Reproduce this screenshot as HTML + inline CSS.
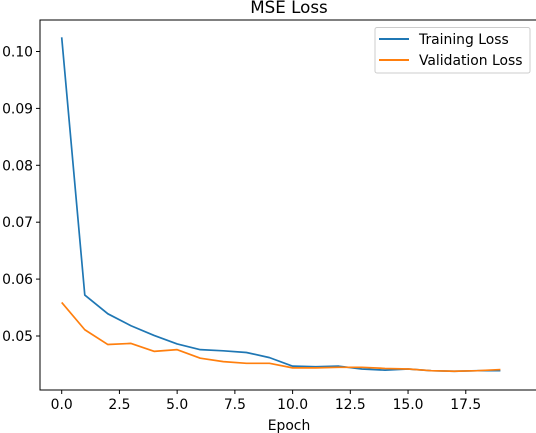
<!DOCTYPE html>
<html><head><meta charset="utf-8"><style>
body{margin:0;background:#fff;}
svg{display:block;font-family:"DejaVu Sans","Liberation Sans",sans-serif;}
</style></head><body>
<svg id="chart" width="536" height="433">
<text x="289" y="13" font-size="16.7" text-anchor="middle">MSE Loss</text>
<g id="axes"></g>
<g id="series"></g>
<text x="289" y="430" font-size="13.9" text-anchor="middle">Epoch</text>
<g>
<rect x="375" y="27.5" width="155" height="45.5" rx="2" fill="#fff" stroke="#ccc" stroke-width="1"/>
<line x1="379" y1="39" x2="409" y2="39" stroke="#1f77b4" stroke-width="2"/>
<text x="419" y="44" font-size="13.9">Training Loss</text>
<line x1="379" y1="60" x2="409" y2="60" stroke="#ff7f0e" stroke-width="2"/>
<text x="419" y="65" font-size="13.9">Validation Loss</text>
</g>
</svg>
<script>
const epochs=[0,1,2,3,4,5,6,7,8,9,10,11,12,13,14,15,16,17,18,19];
const trainLoss=[0.1025,0.0572,0.0539,0.0518,0.0501,0.0486,0.0476,0.0474,0.0471,0.0462,0.0447,0.0446,0.0447,0.0442,0.0440,0.0442,0.0439,0.0438,0.0439,0.0439];
const valLoss=[0.0559,0.0511,0.0485,0.0487,0.0473,0.0476,0.0461,0.0455,0.0452,0.0452,0.0444,0.0444,0.0445,0.0445,0.0443,0.0442,0.0439,0.0438,0.0439,0.0441];
const xTicks=[0,2.5,5,7.5,10,12.5,15,17.5];
const xTickLabels=["0.0","2.5","5.0","7.5","10.0","12.5","15.0","17.5"];
const yTicks=[0.05,0.06,0.07,0.08,0.09,0.10];
const yTickLabels=["0.05","0.06","0.07","0.08","0.09","0.10"];
const NS="http://www.w3.org/2000/svg";
const L=40,T=20,B=390,R=545;
const x=v=>61.7+v*23.09;
const y=v=>51.5+(0.10-v)*5690;
const axes=document.getElementById('axes'),ser=document.getElementById('series');
function mk(tag,attrs,parent){const e=document.createElementNS(NS,tag);for(const k in attrs)e.setAttribute(k,attrs[k]);parent.appendChild(e);return e;}
const frame=mk('path',{d:`M${R},${T}H${L}V${B}H${R}`,fill:'none',stroke:'#000','stroke-width':1},axes);


xTicks.forEach((t,i)=>{
  mk('line',{x1:x(t),x2:x(t),y1:B,y2:B+4,stroke:'#000'},axes);
  const tx=mk('text',{x:x(t),y:B+19,'font-size':13.9,'text-anchor':'middle'},axes);
  tx.textContent=xTickLabels[i];
  
  
});
yTicks.forEach((t,i)=>{
  mk('line',{x1:L-4,x2:L,y1:y(t),y2:y(t),stroke:'#000'},axes);
  const tx=mk('text',{x:L-7,y:y(t)+5,'font-size':13.9,'text-anchor':'end'},axes);
  tx.textContent=yTickLabels[i];
  
  
});
function line(vals,color,name){
  const p=mk('polyline',{points:vals.map((v,i)=>x(epochs[i])+','+y(v)).join(' '),fill:'none',stroke:color,'stroke-width':1.7,'stroke-linejoin':'round'},ser);
  
  
}
line(trainLoss,'#1f77b4','training-loss-line');
line(valLoss,'#ff7f0e','validation-loss-line');
</script>
</body></html>
